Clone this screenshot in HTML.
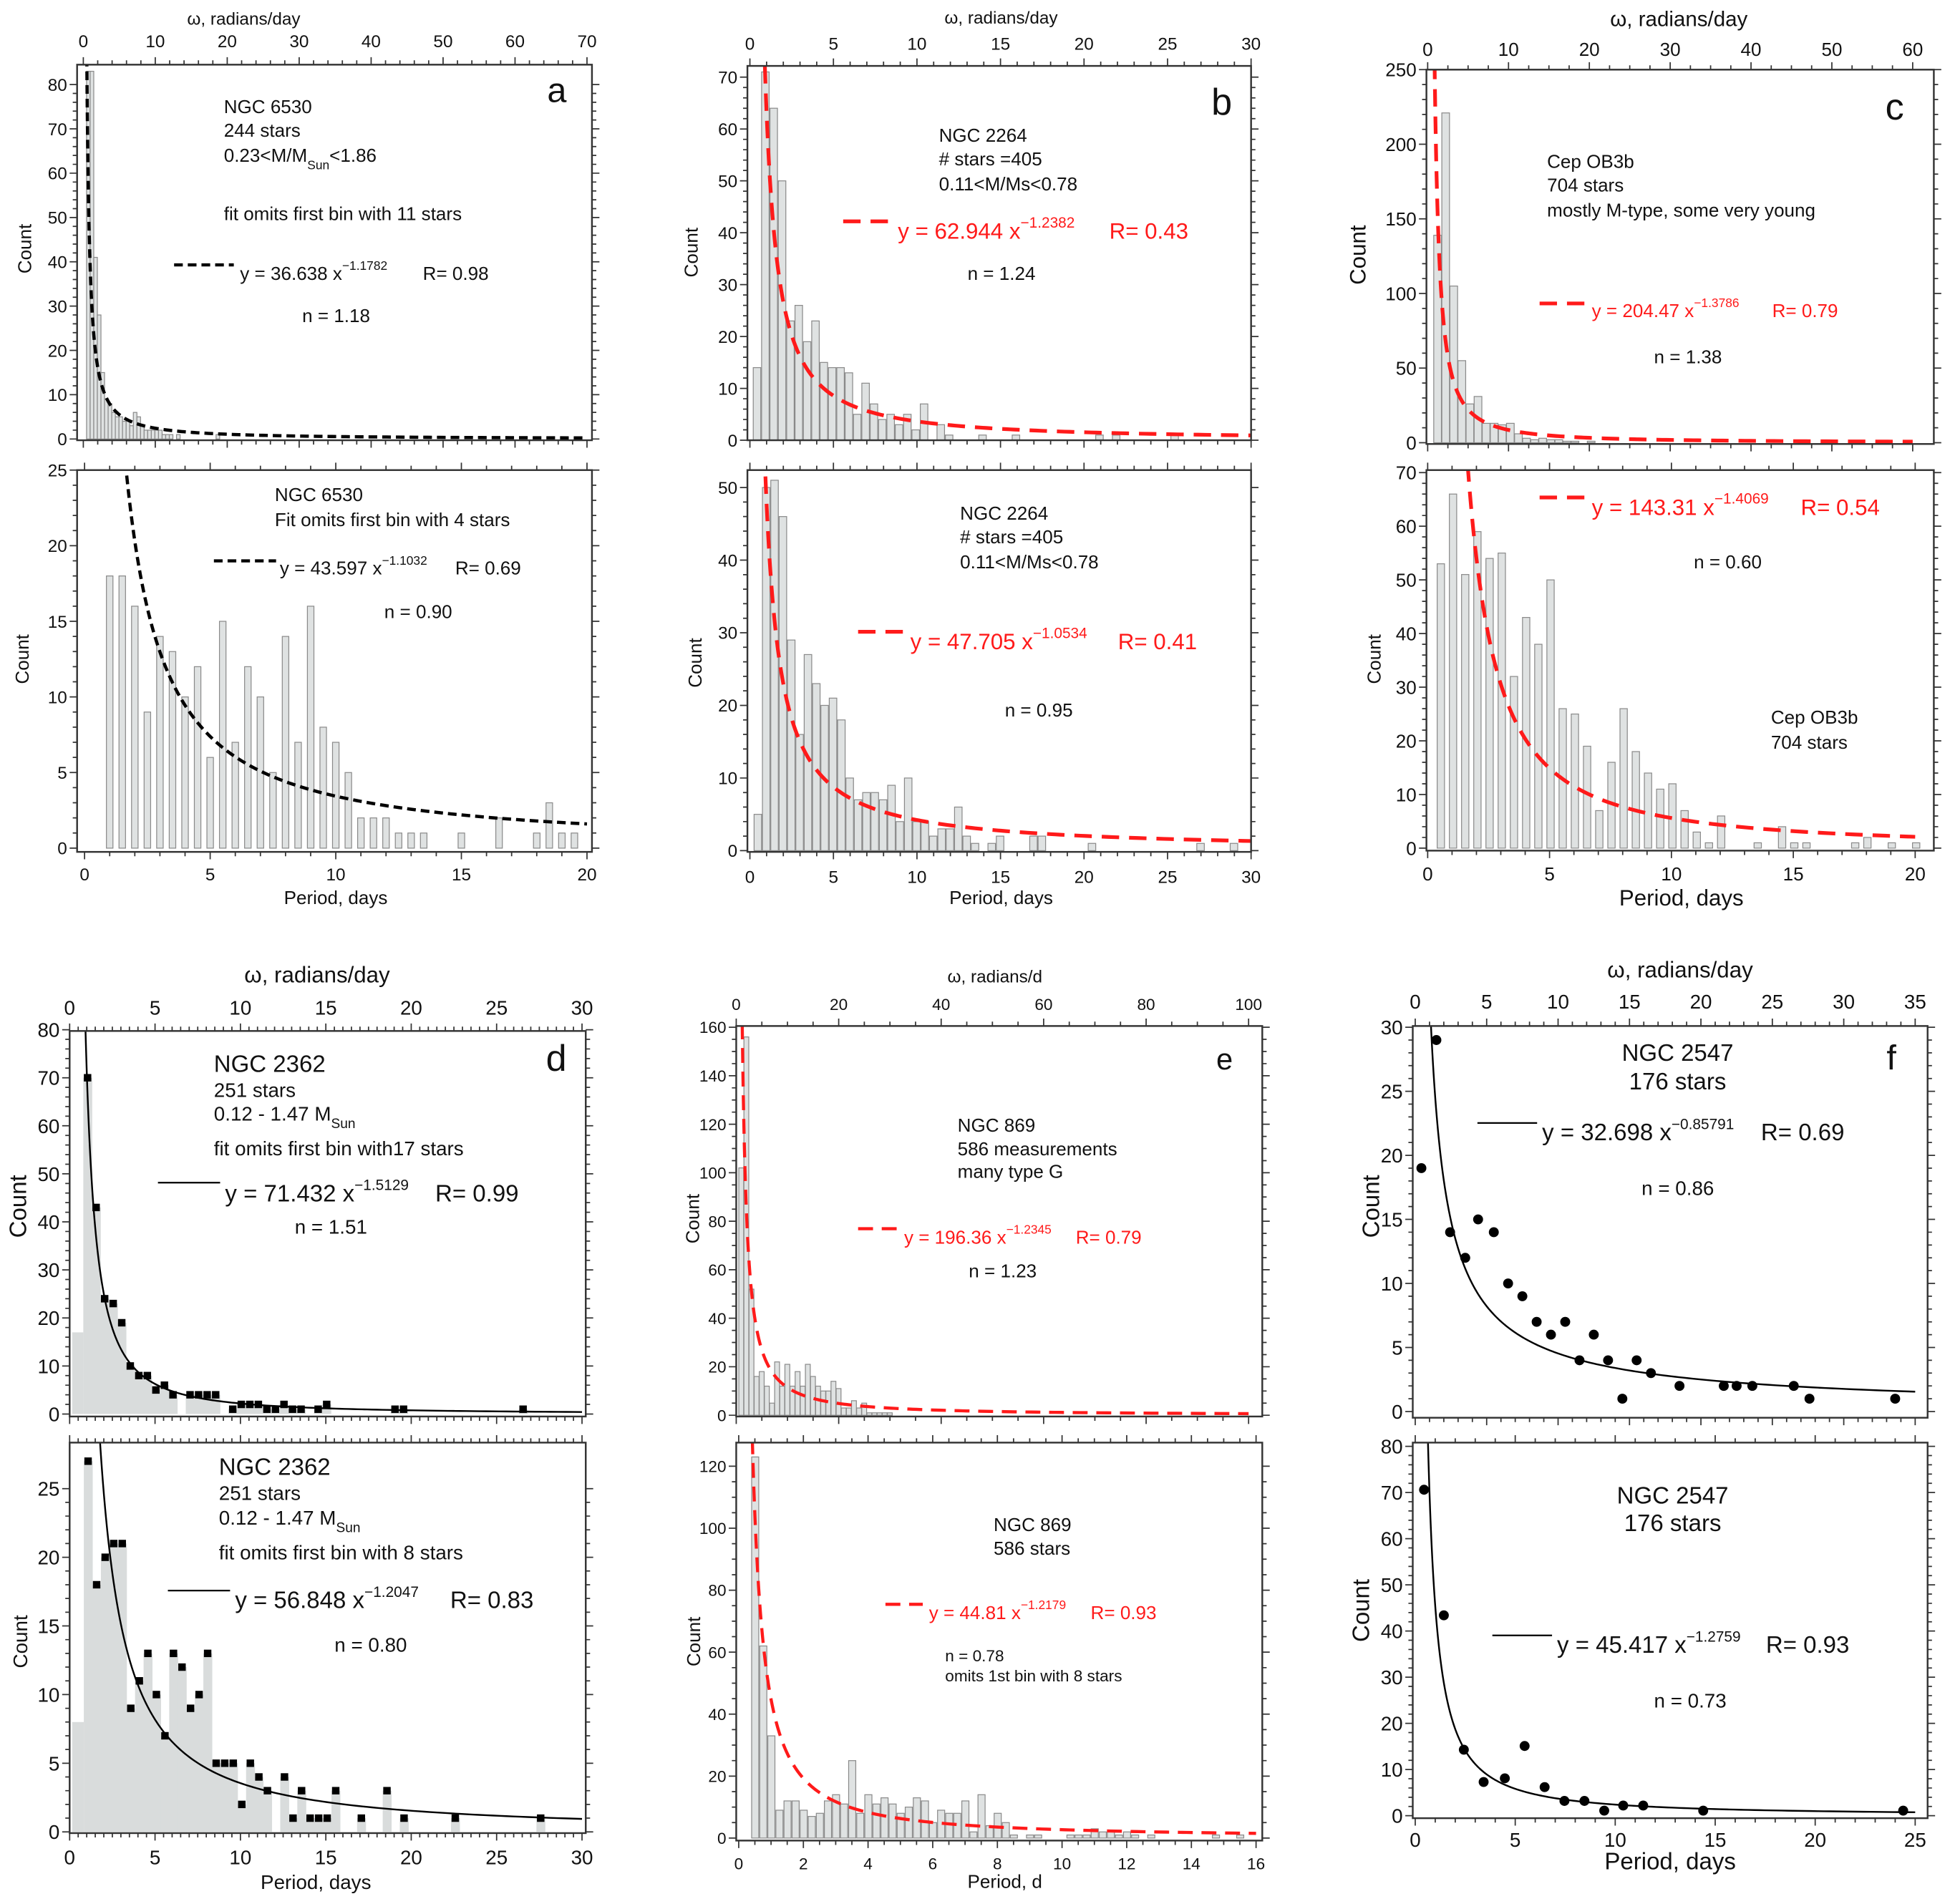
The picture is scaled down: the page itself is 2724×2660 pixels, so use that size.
<!DOCTYPE html>
<html><head><meta charset="utf-8">
<style>
html,body{margin:0;padding:0;background:#fff;}
svg{display:block;}
text{font-family:"Liberation Sans",Arial,sans-serif;fill:#111;}
.red{fill:#ff1a1a;}
</style></head>
<body>
<svg id="fig" xmlns="http://www.w3.org/2000/svg" width="2724" height="2660" viewBox="0 0 1568 1531" preserveAspectRatio="none">
<g id="marks"></g>
<g id="axes"></g>
<g>
<!-- Panel a top -->
<text x="196" y="20" font-size="14" text-anchor="middle">ω, radians/day</text>
<text x="440" y="82" font-size="28">a</text>
<text x="180" y="91" font-size="15">NGC 6530</text>
<text x="180" y="110" font-size="15">244 stars</text>
<text x="180" y="130" font-size="15">0.23&lt;M/M<tspan font-size="10" dy="6">Sun</tspan><tspan dy="-6">&lt;1.86</tspan></text>
<text x="180" y="177" font-size="15">fit omits first bin with 11 stars</text>
<line x1="140" y1="213" x2="188" y2="213" stroke="#000" stroke-width="2.5" stroke-dasharray="7 4"/>
<text x="193" y="225" font-size="15">y = 36.638 x<tspan font-size="10" dy="-8">−1.1782</tspan></text>
<text x="340" y="225" font-size="15">R= 0.98</text>
<text x="243" y="259" font-size="15">n = 1.18</text>
<text transform="translate(25,200) rotate(-90)" font-size="15" text-anchor="middle">Count</text>
<!-- Panel a bottom -->
<text x="221" y="403" font-size="15">NGC 6530</text>
<text x="221" y="423" font-size="15">Fit omits first bin with 4 stars</text>
<line x1="172" y1="451" x2="222" y2="451" stroke="#000" stroke-width="2.5" stroke-dasharray="7 4"/>
<text x="225" y="462" font-size="15">y = 43.597 x<tspan font-size="10" dy="-8">−1.1032</tspan></text>
<text x="366" y="462" font-size="15">R= 0.69</text>
<text x="309" y="497" font-size="15">n = 0.90</text>
<text x="270" y="727" font-size="15" text-anchor="middle">Period, days</text>
<text transform="translate(23,530) rotate(-90)" font-size="15" text-anchor="middle">Count</text>
<!-- Panel b top -->
<text x="805" y="19" font-size="14" text-anchor="middle">ω, radians/day</text>
<text x="974" y="92" font-size="30">b</text>
<text x="755" y="114" font-size="15">NGC 2264</text>
<text x="755" y="133" font-size="15"># stars =405</text>
<text x="755" y="153" font-size="15">0.11&lt;M/Ms&lt;0.78</text>
<line x1="678" y1="178" x2="718" y2="178" stroke="#ff1a1a" stroke-width="3" stroke-dasharray="14 8"/>
<text x="722" y="192" font-size="18" class="red">y = 62.944 x<tspan font-size="12" dy="-9">−1.2382</tspan></text>
<text x="892" y="192" font-size="18" class="red">R= 0.43</text>
<text x="778" y="225" font-size="15">n = 1.24</text>
<text transform="translate(561,203) rotate(-90)" font-size="15" text-anchor="middle">Count</text>
<!-- Panel b bottom -->
<text x="772" y="418" font-size="15">NGC 2264</text>
<text x="772" y="437" font-size="15"># stars =405</text>
<text x="772" y="457" font-size="15">0.11&lt;M/Ms&lt;0.78</text>
<line x1="690" y1="508" x2="728" y2="508" stroke="#ff1a1a" stroke-width="3" stroke-dasharray="14 8"/>
<text x="732" y="522" font-size="18" class="red">y = 47.705 x<tspan font-size="12" dy="-9">−1.0534</tspan></text>
<text x="899" y="522" font-size="18" class="red">R= 0.41</text>
<text x="808" y="576" font-size="15">n = 0.95</text>
<text x="805" y="727" font-size="15" text-anchor="middle">Period, days</text>
<text transform="translate(564,533) rotate(-90)" font-size="15" text-anchor="middle">Count</text>
<!-- Panel c top -->
<text x="1350" y="21" font-size="17" text-anchor="middle">ω, radians/day</text>
<text x="1516" y="96" font-size="30">c</text>
<text x="1244" y="135" font-size="15">Cep OB3b</text>
<text x="1244" y="154" font-size="15">704 stars</text>
<text x="1244" y="174" font-size="15">mostly M-type, some very young</text>
<line x1="1238" y1="244" x2="1276" y2="244" stroke="#ff1a1a" stroke-width="3" stroke-dasharray="14 8"/>
<text x="1280" y="255" font-size="15" class="red">y = 204.47 x<tspan font-size="10" dy="-8">−1.3786</tspan></text>
<text x="1425" y="255" font-size="15" class="red">R= 0.79</text>
<text x="1330" y="292" font-size="15">n = 1.38</text>
<text transform="translate(1098,205) rotate(-90)" font-size="18" text-anchor="middle">Count</text>
<!-- Panel c bottom -->
<line x1="1238" y1="400" x2="1276" y2="400" stroke="#ff1a1a" stroke-width="3" stroke-dasharray="14 8"/>
<text x="1280" y="414" font-size="18" class="red">y = 143.31 x<tspan font-size="12" dy="-9">−1.4069</tspan></text>
<text x="1448" y="414" font-size="18" class="red">R= 0.54</text>
<text x="1362" y="457" font-size="15">n = 0.60</text>
<text x="1424" y="582" font-size="15">Cep OB3b</text>
<text x="1424" y="602" font-size="15">704 stars</text>
<text x="1352" y="728" font-size="18" text-anchor="middle">Period, days</text>
<text transform="translate(1110,530) rotate(-90)" font-size="15" text-anchor="middle">Count</text>
<!-- Panel d top -->
<text x="255" y="790" font-size="18" text-anchor="middle">ω, radians/day</text>
<text x="439" y="861" font-size="30">d</text>
<text x="172" y="862" font-size="19">NGC 2362</text>
<text x="172" y="882" font-size="16">251 stars</text>
<text x="172" y="901" font-size="16">0.12 - 1.47 M<tspan font-size="11" dy="6">Sun</tspan></text>
<text x="172" y="929" font-size="16">fit omits first bin with17 stars</text>
<line x1="127" y1="951" x2="177" y2="951" stroke="#000" stroke-width="1.3"/>
<text x="181" y="966" font-size="19">y = 71.432 x<tspan font-size="12" dy="-9">−1.5129</tspan></text>
<text x="350" y="966" font-size="19">R= 0.99</text>
<text x="237" y="992" font-size="16">n = 1.51</text>
<text transform="translate(21,970) rotate(-90)" font-size="19" text-anchor="middle">Count</text>
<!-- Panel d bottom -->
<text x="176" y="1186" font-size="19">NGC 2362</text>
<text x="176" y="1206" font-size="16">251 stars</text>
<text x="176" y="1226" font-size="16">0.12 - 1.47 M<tspan font-size="11" dy="6">Sun</tspan></text>
<text x="176" y="1254" font-size="16">fit omits first bin with 8 stars</text>
<line x1="135" y1="1279" x2="185" y2="1279" stroke="#000" stroke-width="1.3"/>
<text x="189" y="1293" font-size="19">y = 56.848 x<tspan font-size="12" dy="-9">−1.2047</tspan></text>
<text x="362" y="1293" font-size="19">R= 0.83</text>
<text x="269" y="1328" font-size="16">n = 0.80</text>
<text x="254" y="1519" font-size="16" text-anchor="middle">Period, days</text>
<text transform="translate(22,1320) rotate(-90)" font-size="16" text-anchor="middle">Count</text>
<!-- Panel e top -->
<text x="800" y="790" font-size="14" text-anchor="middle">ω, radians/d</text>
<text x="978" y="860" font-size="24">e</text>
<text x="770" y="910" font-size="15">NGC 869</text>
<text x="770" y="929" font-size="15">586 measurements</text>
<text x="770" y="947" font-size="15">many type G</text>
<line x1="690" y1="988" x2="722" y2="988" stroke="#ff1a1a" stroke-width="2.5" stroke-dasharray="12 7"/>
<text x="727" y="1000" font-size="15" class="red">y = 196.36 x<tspan font-size="10" dy="-8">−1.2345</tspan></text>
<text x="865" y="1000" font-size="15" class="red">R= 0.79</text>
<text x="779" y="1027" font-size="15">n = 1.23</text>
<text transform="translate(562,980) rotate(-90)" font-size="15" text-anchor="middle">Count</text>
<!-- Panel e bottom -->
<text x="799" y="1231" font-size="15">NGC 869</text>
<text x="799" y="1250" font-size="15">586 stars</text>
<line x1="712" y1="1290" x2="742" y2="1290" stroke="#ff1a1a" stroke-width="2.5" stroke-dasharray="12 7"/>
<text x="747" y="1302" font-size="15" class="red">y = 44.81 x<tspan font-size="10" dy="-8">−1.2179</tspan></text>
<text x="877" y="1302" font-size="15" class="red">R= 0.93</text>
<text x="760" y="1336" font-size="13">n = 0.78</text>
<text x="760" y="1352" font-size="13">omits 1st bin with 8 stars</text>
<text x="808" y="1518" font-size="15" text-anchor="middle">Period, d</text>
<text transform="translate(563,1320) rotate(-90)" font-size="15" text-anchor="middle">Count</text>
<!-- Panel f top -->
<text x="1351" y="786" font-size="18" text-anchor="middle">ω, radians/day</text>
<text x="1517" y="860" font-size="28">f</text>
<text x="1349" y="853" font-size="19" text-anchor="middle">NGC 2547</text>
<text x="1349" y="876" font-size="19" text-anchor="middle">176 stars</text>
<line x1="1188" y1="903" x2="1236" y2="903" stroke="#000" stroke-width="1.3"/>
<text x="1240" y="917" font-size="19">y = 32.698 x<tspan font-size="12" dy="-9">−0.85791</tspan></text>
<text x="1416" y="917" font-size="19">R= 0.69</text>
<text x="1320" y="961" font-size="16">n = 0.86</text>
<text transform="translate(1109,970) rotate(-90)" font-size="19" text-anchor="middle">Count</text>
<!-- Panel f bottom -->
<text x="1345" y="1209" font-size="19" text-anchor="middle">NGC 2547</text>
<text x="1345" y="1231" font-size="19" text-anchor="middle">176 stars</text>
<line x1="1200" y1="1315" x2="1248" y2="1315" stroke="#000" stroke-width="1.3"/>
<text x="1252" y="1329" font-size="19">y = 45.417 x<tspan font-size="12" dy="-9">−1.2759</tspan></text>
<text x="1420" y="1329" font-size="19">R= 0.93</text>
<text x="1330" y="1373" font-size="16">n = 0.73</text>
<text x="1343" y="1503" font-size="19" text-anchor="middle">Period, days</text>
<text transform="translate(1101,1295) rotate(-90)" font-size="19" text-anchor="middle">Count</text>
</g>
</svg>
<script>
// ---- Data ----
const aTopCounts = [83,83,41,28,15,9,8,6,5,5,4,4,3,6,5,3,2,2,2,2,2,1,1,1,0,1,0,0,0,0,0,0,0,0,0,0,1];
const aBotCounts = [18,18,16,9,14,13,10,12,6,15,7,12,10,5,14,7,16,8,7,5,2,2,2,1,1,1,0,0,1,0,0,2,0,0,1,3,1,1];
const bTopCounts = [14,71,64,50,23,26,19,23,15,14,14,13,5,11,7,4,5,3,5,2,7,0,3,1,0,0,0,1,0,0,0,1,0,0,0,0,0,0,0,0,0,1,0,1,0,0,0,0,0,0,1];
const bBotCounts = [5,50,51,46,29,16,27,23,20,21,18,10,7,8,8,7,9,4,10,4,4,2,3,3,6,2,1,0,1,2,0,0,0,2,2,0,0,0,0,0,1,0,0,0,0,0,0,0,0,0,0,0,0,1,0,0,0,1];
const cTopCounts = [139,221,105,55,26,31,13,13,12,13,6,3,2,3,2,2,1,1,0,1];
const cBotCounts = [53,66,51,59,54,55,32,43,38,50,26,25,19,7,16,26,18,14,11,12,7,3,1,6,0,0,1,0,4,1,1,0,0,0,1,2,0,1,0,1];
const dTopFirstBin = 17;
const dTopOmega = [1.05,1.55,2.05,2.55,3.05,3.55,4.05,4.55,5.05,5.55,6.05,7.05,7.55,8.05,8.55,9.55,10.05,10.55,11.05,11.55,12.05,12.55,13.05,13.55,14.55,15.05,19.05,19.55,26.55];
const dTopCounts = [70,43,24,23,19,10,8,8,5,6,4,4,4,4,4,1,2,2,2,1,1,2,1,1,1,2,1,1,1];
const dBotFirstBin = 8;
const dBotPeriod = [1.08,1.58,2.08,2.58,3.08,3.58,4.08,4.58,5.08,5.58,6.08,6.58,7.08,7.58,8.08,8.58,9.08,9.58,10.08,10.58,11.08,11.58,12.58,13.08,13.58,14.08,14.58,15.08,15.58,17.08,18.58,19.58,22.58,27.58];
const dBotCounts = [27,18,20,21,21,9,11,13,10,7,13,12,9,10,13,5,5,5,2,5,4,3,4,1,3,1,1,1,3,1,3,1,1,1];
const eTopCounts = [102,156,52,16,18,12,5,22,12,21,12,18,12,21,16,12,10,10,14,11,3,3,6,3,5,1,1,1,1,1];
const eBotCounts = [123,62,33,9,12,12,9,7,8,12,14,11,25,8,14,11,13,11,8,10,13,12,5,9,8,8,12,2,14,4,8,5,1,0,1,1,0,0,0,1,1,1,3,2,2,1,2,1,0,1,0,0,0,0,0,0,0,1,0,0,1];
const fTopOmega = [0.43,1.48,2.44,3.5,4.4,5.5,6.5,7.5,8.5,9.5,10.5,11.5,12.5,13.5,14.5,15.5,16.5,18.5,21.6,22.5,23.6,26.5,27.6,33.6];
const fTopCounts = [19,29,14,12,15,14,10,9,7,6,7,4,6,4,1,4,3,2,2,2,2,2,1,1];
const fBotPeriod = [0.44,1.43,2.43,3.42,4.48,5.47,6.47,7.46,8.46,9.45,10.4,11.4,14.4,24.4];
const fBotCounts = [70.6,43.4,14.3,7.3,8.1,15.1,6.2,3.2,3.2,1.1,2.2,2.2,1.1,1.1];
// fit coefficients [A, exponent]
const aTopFit = [36.638,1.1782], aBotFit = [43.597,1.1032];
const bTopFit = [62.944,1.2382], bBotFit = [47.705,1.0534];
const cTopFit = [204.47,1.3786], cBotFit = [143.31,1.4069];
const dTopFit = [71.432,1.5129], dBotFit = [56.848,1.2047];
const eTopFit = [196.36,1.2345], eBotFit = [44.81,1.2179];
const fTopFit = [32.698,0.85791], fBotFit = [45.417,1.2759];
// tick label arrays
const aTopXTicks=[0,10,20,30,40,50,60,70], aTopYTicks=[0,10,20,30,40,50,60,70,80];
const aBotXTicks=[0,5,10,15,20], aBotYTicks=[0,5,10,15,20,25];
const bTopXTicks=[0,5,10,15,20,25,30], bTopYTicks=[0,10,20,30,40,50,60,70];
const bBotXTicks=[0,5,10,15,20,25,30], bBotYTicks=[0,10,20,30,40,50];
const cTopXTicks=[0,10,20,30,40,50,60], cTopYTicks=[0,50,100,150,200,250];
const cBotXTicks=[0,5,10,15,20], cBotYTicks=[0,10,20,30,40,50,60,70];
const dTopXTicks=[0,5,10,15,20,25,30], dTopYTicks=[0,10,20,30,40,50,60,70,80];
const dBotXTicks=[0,5,10,15,20,25,30], dBotYTicks=[0,5,10,15,20,25];
const eTopXTicks=[0,20,40,60,80,100], eTopYTicks=[0,20,40,60,80,100,120,140,160];
const eBotXTicks=[0,2,4,6,8,10,12,14,16], eBotYTicks=[0,20,40,60,80,100,120];
const fTopXTicks=[0,5,10,15,20,25,30,35], fTopYTicks=[0,5,10,15,20,25,30];
const fBotXTicks=[0,5,10,15,20,25], fBotYTicks=[0,10,20,30,40,50,60,70,80];

const NS='http://www.w3.org/2000/svg';
const marks=document.getElementById('marks');
const axes=document.getElementById('axes');
function mk(tag,attrs,parent){const e=document.createElementNS(NS,tag);for(const k in attrs)e.setAttribute(k,attrs[k]);(parent||marks).appendChild(e);return e;}

// panel layout
const panels={
 aT:{id:'a-top',box:[62,52,476,354],xs:[0,67,70,472],ys:[0,353,80,68],xMin:2,yMin:2,xT:aTopXTicks,yT:aTopYTicks,lab:'top',labY:38,fs:14},
 aB:{id:'a-bot',box:[62,378,476,685],xs:[0,68,20,472],ys:[0,682,25,378],xMin:1,yMin:1,xT:aBotXTicks,yT:aBotYTicks,lab:'bottom',labY:708,fs:14},
 bT:{id:'b-top',box:[601,53,1006,354],xs:[0,603,30,1006],ys:[0,354,70,62],xMin:1,yMin:2,xT:bTopXTicks,yT:bTopYTicks,lab:'top',labY:40,fs:14},
 bB:{id:'b-bot',box:[601,378,1006,685],xs:[0,603,30,1006],ys:[0,684,50,392],xMin:1,yMin:2,xT:bBotXTicks,yT:bBotYTicks,lab:'bottom',labY:710,fs:14},
 cT:{id:'c-top',box:[1147,56,1555,357],xs:[0,1148,60,1538],ys:[0,356,250,56],xMin:2.5,yMin:10,xT:cTopXTicks,yT:cTopYTicks,lab:'top',labY:45,fs:15},
 cB:{id:'c-bot',box:[1147,378,1555,684],xs:[0,1148,20,1540],ys:[0,682,70,380],xMin:1,yMin:2,xT:cBotXTicks,yT:cBotYTicks,lab:'bottom',labY:708,fs:15},
 dT:{id:'d-top',box:[56,829,471,1139],xs:[0,56,30,468],ys:[0,1137,80,828],xMin:0.5,yMin:2,xT:dTopXTicks,yT:dTopYTicks,lab:'top',labY:816,fs:16},
 dB:{id:'d-bot',box:[56,1160,471,1474],xs:[0,56,30,468],ys:[0,1473,25,1197],xMin:0.5,yMin:1,xT:dBotXTicks,yT:dBotYTicks,lab:'bottom',labY:1499,fs:16},
 eT:{id:'e-top',box:[592,825,1015,1139],xs:[0,592,100,1004],ys:[0,1138,160,826],xMin:5,yMin:5,xT:eTopXTicks,yT:eTopYTicks,lab:'top',labY:812,fs:13},
 eB:{id:'e-bot',box:[592,1160,1015,1480],xs:[0,594,16,1010],ys:[0,1478,120,1179],xMin:0.5,yMin:5,xT:eBotXTicks,yT:eBotYTicks,lab:'bottom',labY:1503,fs:13},
 fT:{id:'f-top',box:[1136,825,1550,1140],xs:[0,1138,35,1540],ys:[0,1135,30,826],xMin:1,yMin:1,xT:fTopXTicks,yT:fTopYTicks,lab:'top',labY:811,fs:16},
 fB:{id:'f-bot',box:[1136,1160,1550,1462],xs:[0,1138,25,1540],ys:[0,1460,80,1163],xMin:1,yMin:2,xT:fBotXTicks,yT:fBotYTicks,lab:'bottom',labY:1485,fs:16}
};
function sx(p,v){return p.xs[1]+(v-p.xs[0])*(p.xs[3]-p.xs[1])/(p.xs[2]-p.xs[0]);}
function sy(p,v){return p.ys[1]+(v-p.ys[0])*(p.ys[3]-p.ys[1])/(p.ys[2]-p.ys[0]);}

let clipN=0;
function clipFor(p){
 const id='clip'+(clipN++);
 const cp=mk('clipPath',{id:id},marks);
 mk('rect',{x:p.box[0],y:p.box[1],width:p.box[2]-p.box[0],height:p.box[3]-p.box[1]},cp);
 return 'url(#'+id+')';
}

function drawAxes(p){
 const [x0,y0,x1,y1]=p.box;
 const b=mk('rect',{x:x0,y:y0,width:x1-x0,height:y1-y0,fill:'none',stroke:'#333','stroke-width':1.4},axes);
 
 
 const xmax=p.xT[p.xT.length-1], ymax=p.yT[p.yT.length-1];
 let d='';
 for(let v=0;v<=xmax+1e-6;v+=p.xMin){
  const major=p.xT.some(t=>Math.abs(t-v)<1e-6); const L=major?6:3.5; const X=sx(p,v);
  d+=`M${X},${y0}v${-L}M${X},${y1}v${L}`;
 }
 for(let v=0;v<=ymax+1e-6;v+=p.yMin){
  const major=p.yT.some(t=>Math.abs(t-v)<1e-6); const L=major?6:3.5; const Y=sy(p,v);
  d+=`M${x0},${Y}h${-L}M${x1},${Y}h${L}`;
 }
 const tk=mk('path',{d:d,stroke:'#333','stroke-width':1,fill:'none'},axes);
 
 
 p.xT.forEach(v=>{
  const t=mk('text',{x:sx(p,v),y:p.labY,'font-size':p.fs,'text-anchor':'middle'},axes);
  t.textContent=String(v);
  
  
 });
 p.yT.forEach(v=>{
  const t=mk('text',{x:x0-8,y:sy(p,v)+p.fs*0.36,'font-size':p.fs,'text-anchor':'end'},axes);
  t.textContent=String(v);
  
  
 });
}

function drawBars(p,counts,start,step,width,clip){
 const g=mk('g',{'clip-path':clip});
 
 
 counts.forEach((c,i)=>{
  if(!c)return;
  const l=start+i*step;
  const X0=sx(p,l),X1=sx(p,l+width),Y=sy(p,c),Y0=sy(p,0);
  const r=mk('rect',{x:X0,y:Y,width:X1-X0,height:Y0-Y,fill:'#dfe2e2',stroke:'#8a8a8a','stroke-width':0.7},g);
  
  
 });
}

function drawStep(p,centers,counts,first,firstEnd,clip){
 const g=mk('g',{'clip-path':clip});
 
 
 const r0=mk('rect',{x:sx(p,0.15),y:sy(p,first),width:sx(p,firstEnd)-sx(p,0.15),height:sy(p,0)-sy(p,first),fill:'#d9dcdc'},g);
 
 
 centers.forEach((c,i)=>{
  const X0=sx(p,c-0.25),X1=sx(p,c+0.25),Y=sy(p,counts[i]),Y0=sy(p,0);
  const r=mk('rect',{x:X0,y:Y,width:X1-X0+0.3,height:Y0-Y,fill:'#d9dcdc'},g);
  
  
 });
}

function drawCurve(p,fit,style,clip){
 const xmax=p.xT[p.xT.length-1]; let d='';
 const n=400;
 for(let i=0;i<=n;i++){
  const v=0.05*Math.pow(xmax/0.05,i/n);
  let y=fit[0]*Math.pow(v,-fit[1]);
  const ymax=p.yT[p.yT.length-1]*1.3; if(y>ymax)y=ymax;
  d+=(d?'L':'M')+sx(p,v).toFixed(2)+','+sy(p,y).toFixed(2);
 }
 const path=mk('path',Object.assign({d:d,fill:'none','clip-path':clip},style));
 
 
}

function drawMarkers(p,xs,ys,shape,clip){
 const g=mk('g',{'clip-path':clip});
 
 
 xs.forEach((v,i)=>{
  const X=sx(p,v),Y=sy(p,ys[i]);
  let m;
  if(shape==='square') m=mk('rect',{x:X-3,y:Y-3,width:6,height:6,fill:'#000'},g);
  else m=mk('circle',{cx:X,cy:Y,r:4,fill:'#000'},g);
  
  
 });
}

const blackDash={stroke:'#000','stroke-width':2.6,'stroke-dasharray':'7 4'};
const redDash={stroke:'#ff1a1a','stroke-width':3,'stroke-dasharray':'14 8'};
const redDashS={stroke:'#ff1a1a','stroke-width':2.5,'stroke-dasharray':'12 7'};
const solid={stroke:'#000','stroke-width':1.4};

let p,c;
p=panels.aT;c=clipFor(p);drawBars(p,aTopCounts,0.45,0.5,0.5,c);drawCurve(p,aTopFit,blackDash,c);drawAxes(p);
p=panels.aB;c=clipFor(p);drawBars(p,aBotCounts,0.87,0.5,0.26,c);drawCurve(p,aBotFit,blackDash,c);drawAxes(p);
p=panels.bT;c=clipFor(p);drawBars(p,bTopCounts,0.2,0.5,0.45,c);drawCurve(p,bTopFit,redDash,c);drawAxes(p);
p=panels.bB;c=clipFor(p);drawBars(p,bBotCounts,0.25,0.5,0.45,c);drawCurve(p,bBotFit,redDash,c);drawAxes(p);
p=panels.cT;c=clipFor(p);drawBars(p,cTopCounts,0.75,1,0.95,c);drawCurve(p,cTopFit,redDash,c);drawAxes(p);
p=panels.cB;c=clipFor(p);drawBars(p,cBotCounts,0.39,0.5,0.3,c);drawCurve(p,cBotFit,redDash,c);drawAxes(p);
p=panels.dT;c=clipFor(p);drawStep(p,dTopOmega,dTopCounts,dTopFirstBin,0.8,c);drawCurve(p,dTopFit,solid,c);drawMarkers(p,dTopOmega,dTopCounts,'square',c);drawAxes(p);
p=panels.dB;c=clipFor(p);drawStep(p,dBotPeriod,dBotCounts,dBotFirstBin,0.83,c);drawCurve(p,dBotFit,solid,c);drawMarkers(p,dBotPeriod,dBotCounts,'square',c);drawAxes(p);
p=panels.eT;c=clipFor(p);drawBars(p,eTopCounts,0.5,1,0.95,c);drawCurve(p,eTopFit,redDashS,c);drawAxes(p);
p=panels.eB;c=clipFor(p);drawBars(p,eBotCounts,0.4,0.25,0.22,c);drawCurve(p,eBotFit,redDashS,c);drawAxes(p);
p=panels.fT;c=clipFor(p);drawCurve(p,fTopFit,solid,c);drawMarkers(p,fTopOmega,fTopCounts,'circle',c);drawAxes(p);
p=panels.fB;c=clipFor(p);drawCurve(p,fBotFit,solid,c);drawMarkers(p,fBotPeriod,fBotCounts,'circle',c);drawAxes(p);
</script>
</body></html>
